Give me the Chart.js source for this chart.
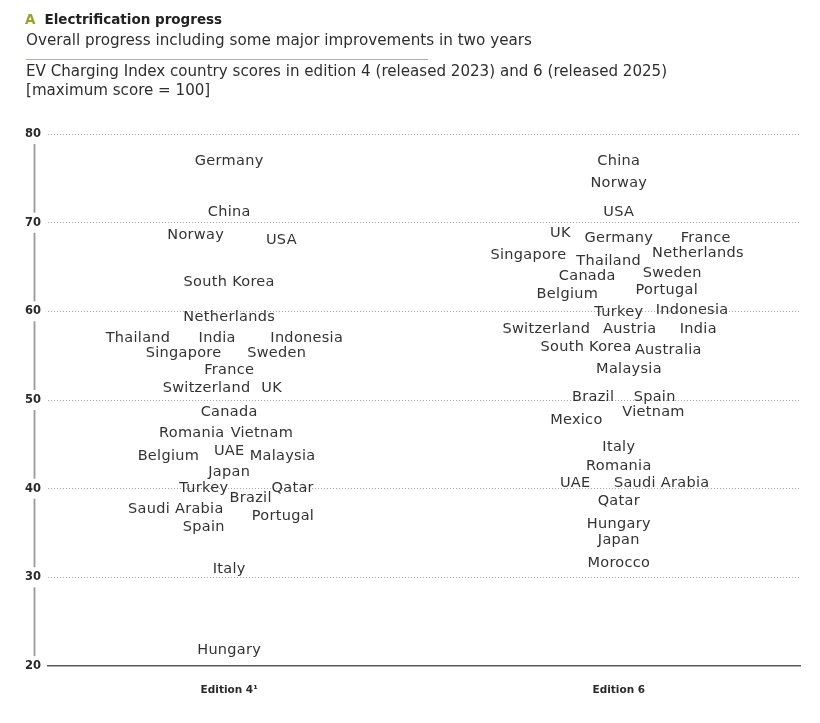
<!DOCTYPE html>
<html>
<head>
<meta charset="utf-8">
<script src="https://cdn.jsdelivr.net/npm/chart.js@4.4.1/dist/chart.umd.min.js"></script>
<style>
  html, body { margin: 0; padding: 0; background: #fff; }
  #wrap { position: relative; width: 820px; height: 723px; overflow: hidden; font-family: "DejaVu Sans", sans-serif; color: #2e2e2e; }
  #chart { position: absolute; left: 0; top: 0; }
  .t { position: absolute; left: 26px; white-space: nowrap; }
  #title { top: 11px; font-weight: bold; font-size: 13.5px; color: #222; }
  #title .a { color: #98a22a; margin-left: -1px; margin-right: 9px; }
  #sub { top: 31px; font-size: 15.2px; }
  #rule { position: absolute; left: 26px; top: 59px; width: 402px; height: 1px; background: #8dbbe0; }
  #desc { top: 62px; font-size: 15.1px; line-height: 19px; }
</style>
</head>
<body>
<div id="wrap">
  <canvas id="chart" width="820" height="723"></canvas>
  <div class="t" id="title"><span class="a">A</span>Electrification progress</div>
  <div class="t" id="sub">Overall progress including some major improvements in two years</div>
  <div id="rule"></div>
  <div class="t" id="desc">EV Charging Index country scores in edition 4 (released 2023) and 6 (released 2025)<br>[maximum score = 100]</div>
</div>
<script>
// ---- data ----
const editionLabels = ["Edition 4\u00B9", "Edition 6"];
const yTicks = [20, 30, 40, 50, 60, 70, 80];

const ed4Countries = ["Germany","China","Norway","USA","South Korea","Netherlands","Thailand","India","Indonesia","Singapore","Sweden","France","Switzerland","UK","Canada","Romania","Vietnam","Belgium","UAE","Malaysia","Japan","Turkey","Qatar","Brazil","Saudi Arabia","Portugal","Spain","Italy","Hungary"];
const ed4Scores = [77.1,71.4,68.7,68.2,63.4,59.5,57.1,57.1,57.1,55.4,55.4,53.5,51.5,51.5,48.8,46.4,46.4,43.8,44.4,43.8,42.0,40.2,40.2,39.1,37.8,37.1,35.8,31.1,22.0];
// horizontal label jitter (in column units) to keep labels from overlapping
const ed4Jitter = [0,0,-0.086,0.134,0,0,-0.234,-0.031,0.199,-0.117,0.122,0,-0.058,0.109,0,-0.096,0.084,-0.156,0,0.137,0,-0.065,0.163,0.055,-0.137,0.138,-0.065,0,0];

const ed6Countries = ["China","Norway","USA","UK","Germany","France","Singapore","Thailand","Netherlands","Canada","Sweden","Belgium","Portugal","Turkey","Indonesia","Switzerland","Austria","India","South Korea","Australia","Malaysia","Brazil","Spain","Vietnam","Mexico","Italy","Romania","UAE","Saudi Arabia","Qatar","Hungary","Japan","Morocco"];
const ed6Scores = [77.1,74.6,71.3,69.0,68.4,68.4,66.5,65.8,66.7,64.1,64.5,62.1,62.5,60.1,60.3,58.2,58.2,58.2,56.1,55.8,53.6,50.5,50.5,48.8,47.9,44.8,42.7,40.8,40.8,38.7,36.2,34.4,31.8];
const ed6Jitter = [0,0,0,-0.150,0,0.223,-0.232,-0.026,0.203,-0.081,0.137,-0.132,0.123,0,0.188,-0.186,0.028,0.204,-0.084,0.127,0.026,-0.066,0.092,0.089,-0.109,0,0,-0.112,0.110,0,0,0,0];

function pts(col, scores, jitter) {
  return scores.map((s, i) => ({ x: col + jitter[i], y: s }));
}

const labelPlugin = {
  id: 'countryLabels',
  afterDatasetsDraw(chart) {
    const ctx = chart.ctx;
    ctx.save();
    ctx.font = '14.5px "DejaVu Sans", sans-serif';
    try { ctx.letterSpacing = '0.3px'; } catch (e) {}
    ctx.fillStyle = '#333333';
    ctx.textAlign = 'center';
    ctx.textBaseline = 'middle';
    chart.data.datasets.forEach((ds, di) => {
      const meta = chart.getDatasetMeta(di);
      meta.data.forEach((el, i) => {
        ctx.fillText(ds.names[i], el.x, el.y + 1.5);
      });
    });
    ctx.restore();
  }
};

const brokenAxisPlugin = {
  id: 'brokenAxis',
  afterDraw(chart) {
    const ys = chart.scales.y;
    const ctx = chart.ctx;
    const x = ys.right - 13.5;
    ctx.save();
    ctx.strokeStyle = '#9a9a9a';
    ctx.lineWidth = 1.8;
    for (let i = 0; i < yTicks.length - 1; i++) {
      const yA = ys.getPixelForValue(yTicks[i]);
      const yB = ys.getPixelForValue(yTicks[i + 1]);
      ctx.beginPath();
      ctx.moveTo(x, yA - 10);
      ctx.lineTo(x, yB + 10);
      ctx.stroke();
    }
    ctx.restore();
  }
};

new Chart(document.getElementById('chart'), {
  type: 'scatter',
  data: {
    datasets: [
      { names: ed4Countries, data: pts(0, ed4Scores, ed4Jitter), pointRadius: 0, pointHoverRadius: 0 },
      { names: ed6Countries, data: pts(1, ed6Scores, ed6Jitter), pointRadius: 0, pointHoverRadius: 0 }
    ]
  },
  options: {
    responsive: false,
    animation: false,
    events: [],
    layout: { padding: { top: 134, right: 20, left: 0, bottom: 0 } },
    plugins: { legend: { display: false }, tooltip: { enabled: false }, title: { display: false } },
    scales: {
      x: {
        type: 'linear',
        min: -0.465,
        max: 1.465,
        afterBuildTicks(s) { s.ticks = [{ value: 0 }, { value: 1 }]; },
        afterFit(s) { s.height = 57; },
        ticks: {
          callback: (v) => editionLabels[Math.round(v)],
          font: { family: '"DejaVu Sans", sans-serif', weight: 'bold', size: 10.5 },
          color: '#2a2a2a',
          padding: 18,
          maxRotation: 0
        },
        grid: { display: false, drawTicks: false },
        border: { display: true, color: '#5a5a5a', width: 1.5 }
      },
      y: {
        min: 20,
        max: 80,
        afterBuildTicks(s) { s.ticks = yTicks.map(v => ({ value: v })); },
        afterFit(s) { s.width = 48; },
        ticks: {
          font: { family: '"DejaVu Sans", sans-serif', weight: 'bold', size: 11.5 },
          color: '#2a2a2a',
          padding: 7
        },
        grid: {
          drawTicks: false,
          color: (c) => (c.tick && c.tick.value === 20) ? 'rgba(0,0,0,0)' : '#a8a8a8',
          lineWidth: 1
        },
        border: { display: false, dash: [1, 2] }
      }
    }
  },
  plugins: [labelPlugin, brokenAxisPlugin]
});
</script>
</body>
</html>
